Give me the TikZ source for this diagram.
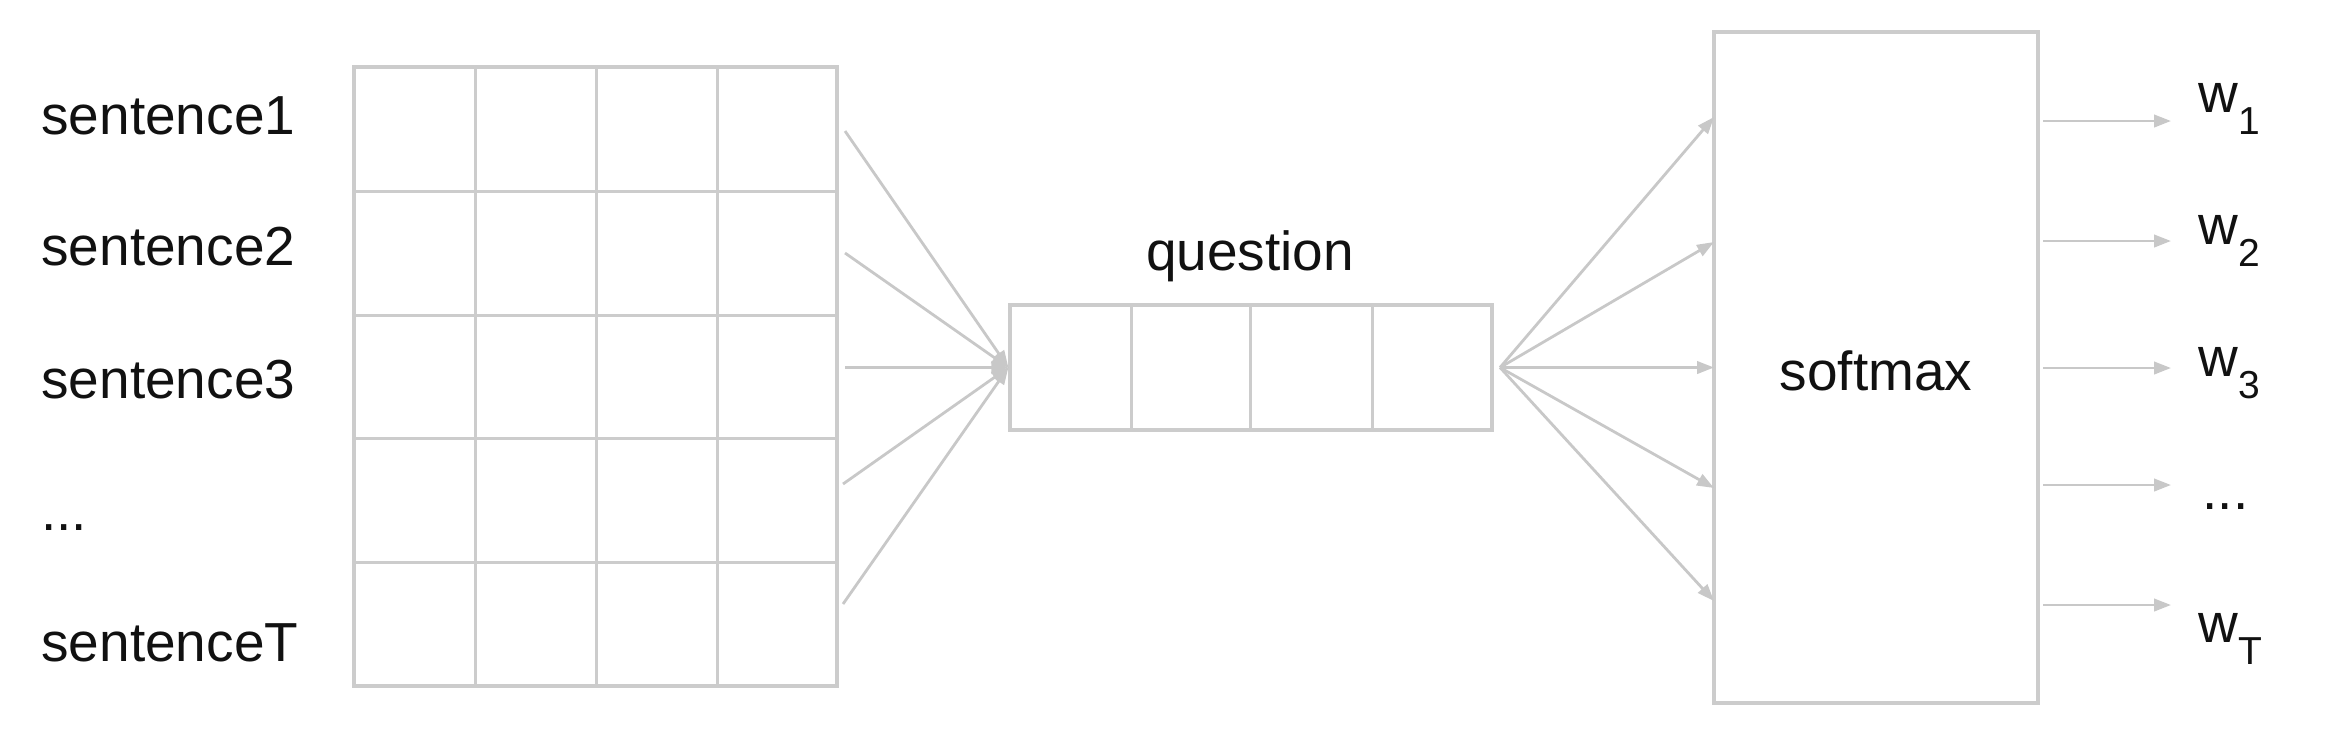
\documentclass[tikz,border=0pt]{standalone}
\usepackage{fontspec}
\setmainfont{Liberation Sans}
\usetikzlibrary{arrows.meta}
\definecolor{boxgray}{HTML}{CCCCCC}
\definecolor{arrgray}{HTML}{C8C8C8}
\definecolor{txt}{HTML}{111111}
\newcommand{\subtxt}[1]{\raisebox{-11pt}{\fontsize{19.5}{19.5}\selectfont #1}}
\tikzset{
  boxstyle/.style={draw=boxgray, line width=1.6pt, inner sep=0pt, fill=none},
  gridline/.style={draw=boxgray, line width=1.5pt},
  arr/.style={draw=arrgray, line width=1.4pt, -{Triangle[length=8.5pt,width=6.2pt]}},
  lbl/.style={text=txt, font=\fontsize{27.5}{33}\selectfont, inner sep=0pt, anchor=base west},
  clbl/.style={text=txt, font=\fontsize{27.5}{33}\selectfont, inner sep=0pt, anchor=base},
}
\begin{document}
\begin{tikzpicture}[x=0.5pt,y=-0.5pt]
\useasboundingbox (0,0) rectangle (2332,736);
% memory grid
\node[boxstyle, minimum width=241.5pt, minimum height=309.5pt] (mem) at (595.5,376.5) {};
\foreach \x in {475.5,596,717}{\draw[gridline] (\x,67) -- (\x,686);}
\foreach \y in {191,315,438.5,562}{\draw[gridline] (354,\y) -- (837,\y);}
% sentence labels
\node[lbl] (s1) at (41,134.5) {sentence1};
\node[lbl] (s2) at (41,265.5) {sentence2};
\node[lbl] (s3) at (41,398) {sentence3};
\node[lbl] (sd) at (41,530) {...};
\node[lbl] (sT) at (41,661) {sentenceT};
% question box
\node[boxstyle, minimum width=241pt, minimum height=62.5pt] (q) at (1251,367.5) {};
\foreach \x in {1131,1250.5,1372}{\draw[gridline] (\x,305) -- (\x,430);}
\node[clbl] (ql) at (1250,270) {question};
% softmax box
\node[boxstyle, minimum width=162pt, minimum height=335.5pt] (sm) at (1876,367.5) {};
\node[clbl] (sml) at (1876,390) {softmax};
% arrows from memory to question
\coordinate (m1) at (845,131);
\coordinate (m2) at (845,253);
\coordinate (m3) at (845,367.5);
\coordinate (m4) at (843,484);
\coordinate (m5) at (843,604);
\foreach \i in {1,...,5}{\draw[arr] (m\i) -- (q.west);}
% arrows from question to softmax
\coordinate (qo) at (1500,367.5);
\coordinate (t1) at (1714,117);
\coordinate (t2) at (1714,242);
\coordinate (t3) at (1714,367.5);
\coordinate (t4) at (1714,488);
\coordinate (t5) at (1714,601);
\foreach \i in {1,...,5}{\draw[arr] (qo) -- (t\i);}
% outputs
\coordinate (a1) at (2043,121);   \coordinate (b1) at (2171,121);
\coordinate (a2) at (2043,241);   \coordinate (b2) at (2171,241);
\coordinate (a3) at (2043,368);   \coordinate (b3) at (2171,368);
\coordinate (a4) at (2043,485);   \coordinate (b4) at (2171,485);
\coordinate (a5) at (2043,605);   \coordinate (b5) at (2171,605);
\foreach \i in {1,...,5}{\draw[arr] (a\i) -- (b\i);}
\node[lbl] (w1) at (2198,112) {w\subtxt{1}};
\node[lbl] (w2) at (2198,244) {w\subtxt{2}};
\node[lbl] (w3) at (2198,376) {w\subtxt{3}};
\node[lbl] (wd) at (2202,509) {...};
\node[lbl] (wT) at (2198,642) {w\subtxt{T}};
\end{tikzpicture}
\end{document}
